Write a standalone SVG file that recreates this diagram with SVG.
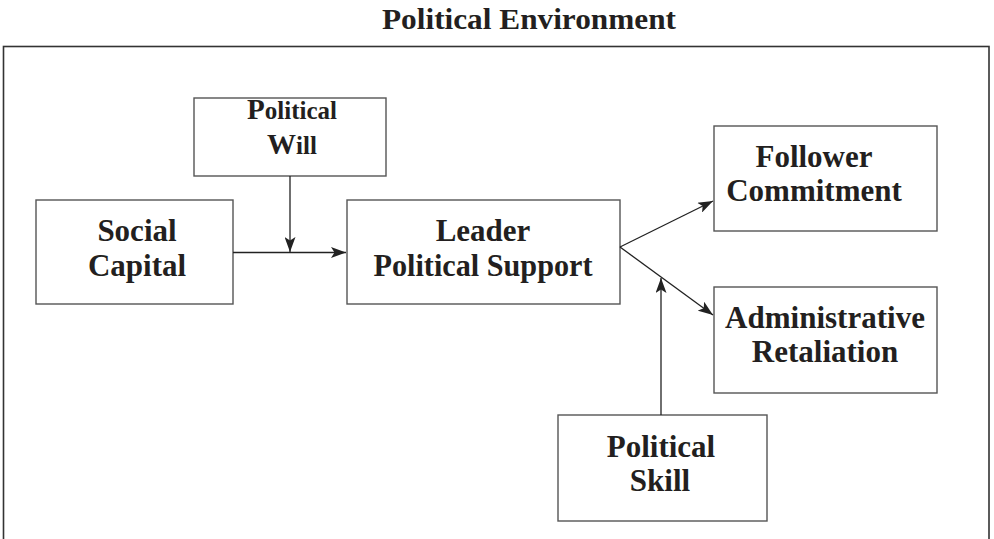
<svg xmlns="http://www.w3.org/2000/svg" width="994" height="539" viewBox="0 0 994 539">
<style>
.box{fill:#fff;stroke:#555;stroke-width:1.4}
.t{font-family:"Liberation Serif",serif;font-weight:bold;fill:#231f20;text-anchor:middle;font-size:31px}
.w{font-size:29px}
.sm{font-size:25px}
.c{stroke:#222;stroke-width:1.3;fill:none}
</style>
<defs>
<marker id="a" viewBox="0 0 15 11" refX="15" refY="5.5" markerWidth="15" markerHeight="11" markerUnits="userSpaceOnUse" orient="auto">
<path d="M0,0 L15,5.5 L0,11 L3.5,5.5 Z" fill="#222"/>
</marker>
</defs>
<rect x="0" y="0" width="994" height="539" fill="#fff"/>
<text class="t" x="529" y="29" style="font-size:30px" textLength="294" lengthAdjust="spacingAndGlyphs">Political Environment</text>
<rect x="3.5" y="46.5" width="985.5" height="500" fill="none" stroke="#333" stroke-width="1.6"/>
<g id="will"><rect class="box" x="194" y="98" width="192" height="78"/>
<text class="t w" x="292" y="119">P<tspan class="sm">olitical</tspan></text><text class="t w" x="292" y="154">W<tspan class="sm">ill</tspan></text></g>
<g id="social"><rect class="box" x="36" y="200" width="197" height="104"/>
<text class="t" x="137" y="241">Social</text><text class="t" x="137" y="276">Capital</text></g>
<g id="leader"><rect class="box" x="347" y="200" width="273" height="104"/>
<text class="t" x="483" y="241">Leader</text><text class="t" x="483" y="276" textLength="219" lengthAdjust="spacingAndGlyphs">Political Support</text></g>
<g id="follower"><rect class="box" x="714" y="126" width="223" height="105"/>
<text class="t" x="814" y="167">Follower</text><text class="t" x="814" y="201">Commitment</text></g>
<g id="admin"><rect class="box" x="714" y="287" width="223" height="106"/>
<text class="t" x="825" y="328" textLength="200" lengthAdjust="spacingAndGlyphs">Administrative</text><text class="t" x="825" y="362">Retaliation</text></g>
<g id="skill"><rect class="box" x="558" y="415" width="209" height="106"/>
<text class="t" x="661" y="457">Political</text><text class="t" x="660" y="491">Skill</text></g>
<g id="connectors">
<path class="c" d="M233,252.5 H346" marker-end="url(#a)"/>
<path class="c" d="M290,176 V252" marker-end="url(#a)"/>
<path class="c" d="M620,247 L713,201" marker-end="url(#a)"/>
<path class="c" d="M620,247 L713,315" marker-end="url(#a)"/>
<path class="c" d="M661,415 V278" marker-end="url(#a)"/>
</g>
</svg>
